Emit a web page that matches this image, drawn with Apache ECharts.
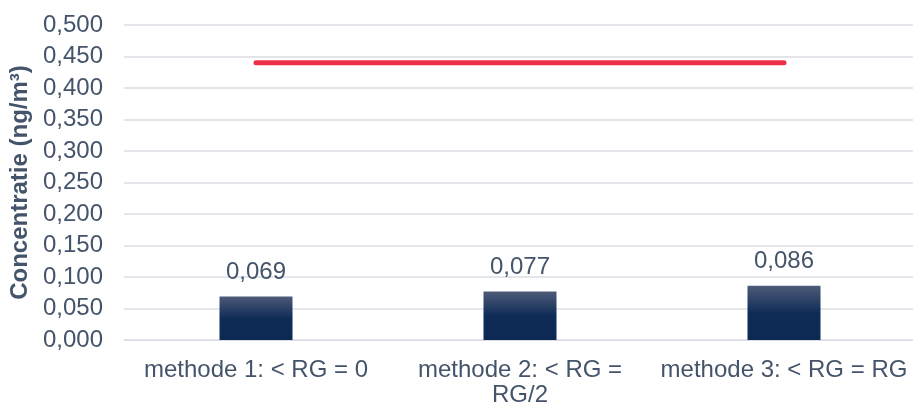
<!DOCTYPE html>
<html><head><meta charset="utf-8">
<script src="https://cdn.jsdelivr.net/npm/echarts@6/dist/echarts.min.js"></script>
<style>html,body{margin:0;padding:0;background:#fff}#c{width:913px;height:403px}</style>
</head><body><div id="c"></div>
<script>
const categories = ['methode 1: < RG = 0', 'methode 2: < RG = RG/2', 'methode 3: < RG = RG'];
const concentration = [0.069, 0.077, 0.086];
const limitValue = [0.44, 0.44, 0.44];
const yTicks = { min: 0, max: 0.5, interval: 0.05 };
const yName = 'Concentratie (ng/m³)';

const txt = '#44546a';
const font = "'Liberation Sans', Arial, sans-serif";
const fmt = v => v.toFixed(3).replace('.', ',');
const ctx = document.createElement('canvas').getContext('2d');
ctx.font = "24px 'Liberation Sans', Arial, sans-serif";
function wrap(s, maxW) {
  const words = s.split(' ');
  const lines = [];
  let cur = '';
  for (const w of words) {
    const t = cur ? cur + ' ' + w : w;
    if (cur && ctx.measureText(t).width > maxW) { lines.push(cur); cur = w; }
    else cur = t;
  }
  if (cur) lines.push(cur);
  return lines.join('\n');
}
const chart = echarts.init(document.getElementById('c'), null, {renderer: 'canvas'});
chart.setOption({
  animation: false,
  grid: { left: 124, right: -3, top: 25, bottom: 63, containLabel: false, outerBoundsMode: 'none' },
  xAxis: {
    type: 'category', data: categories,
    axisLine: { lineStyle: { color: '#d9dee5', width: 1 } },
    axisTick: { show: false },
    axisLabel: { color: txt, fontFamily: font, fontSize: 24, margin: 18, lineHeight: 25,
      interval: 0, formatter: v => wrap(v, 252) }
  },
  yAxis: {
    type: 'value', min: yTicks.min, max: yTicks.max, interval: yTicks.interval,
    name: yName, nameLocation: 'middle', nameGap: 83, nameRotate: 90,
    nameTextStyle: { color: txt, fontFamily: font, fontSize: 24, fontWeight: 'bold' },
    axisLine: { show: false }, axisTick: { show: false },
    axisLabel: { color: txt, fontFamily: font, fontSize: 24, margin: 21, formatter: fmt },
    splitLine: { lineStyle: { color: '#d9dee5', width: 1.5 } }
  },
  series: [
    {
      type: 'bar', data: concentration, barWidth: 73,
      itemStyle: { color: new echarts.graphic.LinearGradient(0, 0, 0, 1, [
        { offset: 0, color: '#4e5b79' },
        { offset: 0.5, color: '#0f2c57' },
        { offset: 1, color: '#0b2953' }
      ]) },
      label: { show: true, position: 'top', distance: 12, color: txt, fontFamily: font, fontSize: 24,
        formatter: p => fmt(p.value) }
    },
    {
      type: 'line', data: limitValue, symbol: 'none', z: 5,
      lineStyle: { color: '#ee2f4a', width: 5, cap: 'round' }
    }
  ]
});
</script></body></html>
